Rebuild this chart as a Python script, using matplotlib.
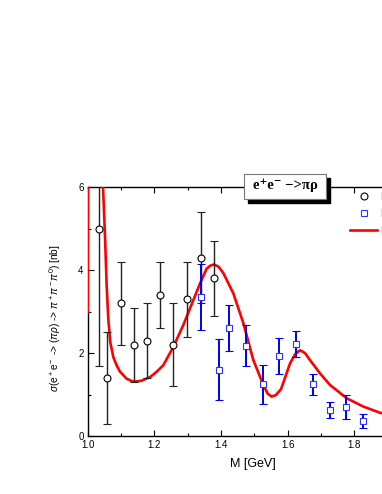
import matplotlib
matplotlib.use("Agg")
import matplotlib.pyplot as plt
import numpy as np
from matplotlib.patches import Rectangle
from matplotlib.lines import Line2D
from matplotlib.ticker import MultipleLocator

plt.rcParams['font.family'] = ['Liberation Sans', 'DejaVu Sans']
plt.rcParams['mathtext.fontset'] = 'custom'
plt.rcParams['mathtext.rm'] = 'Liberation Sans'
plt.rcParams['mathtext.it'] = 'Liberation Sans:italic'

# Data set 1 (open circles)
m1 = [1.035, 1.059, 1.099, 1.138, 1.177, 1.217, 1.257, 1.299, 1.339, 1.379]
s1 = [5.0, 1.4, 3.2, 2.2, 2.3, 3.4, 2.2, 3.3, 4.3, 3.8]
e1 = [3.3, 1.1, 1.0, 0.9, 0.9, 0.8, 1.0, 0.9, 1.1, 0.9]

# Data set 2 (open squares)
m2 = [1.340, 1.395, 1.425, 1.475, 1.526, 1.575, 1.625, 1.675, 1.726, 1.776, 1.825]
s2 = [3.35, 1.6, 2.6, 2.18, 1.25, 1.93, 2.22, 1.25, 0.63, 0.70, 0.37]
e2 = [0.80, 0.74, 0.56, 0.50, 0.47, 0.43, 0.31, 0.25, 0.20, 0.30, 0.17]

# Model curve, left branch then main branch
cm_left = [1.000, 1.0008]
cs_left = [3.0, 6.5]
cm = [1.043, 1.046, 1.052, 1.057, 1.062, 1.068, 1.077, 1.087, 1.097, 1.117, 1.137,
      1.160, 1.187, 1.207, 1.227, 1.257, 1.287, 1.317, 1.337, 1.357, 1.368, 1.379,
      1.393, 1.407, 1.437, 1.467, 1.497, 1.527, 1.540, 1.552, 1.565, 1.580, 1.607,
      1.622, 1.637, 1.652, 1.667, 1.697, 1.727, 1.777, 1.827, 1.877, 1.950]
cs = [6.6, 6.0, 4.8, 3.6, 2.8, 2.25, 1.9, 1.7, 1.55, 1.38, 1.31,
      1.33, 1.42, 1.55, 1.71, 2.15, 2.68, 3.28, 3.68, 4.04, 4.11, 4.14,
      4.08, 3.93, 3.44, 2.72, 1.83, 1.23, 1.02, 0.95, 0.99, 1.13, 1.75,
      1.97, 2.07, 2.00, 1.83, 1.51, 1.23, 0.91, 0.71, 0.56, 0.45]

legend_labels = ['DM2', 'BaBar', 'Model']
xticks = [1.0, 1.2, 1.4, 1.6, 1.8]
yticks = [0, 2, 4, 6]

W, H = 382, 494
fig = plt.figure(figsize=(W / 100, H / 100), dpi=100)
ax = fig.add_axes([87.7 / W, 58 / H, 333.3 / W, 248.7 / H])

ax.plot(cm_left, cs_left, color='#ff0000', lw=1.9, zorder=4)
ax.plot(cm, cs, color='#ff0000', lw=1.9, zorder=4)

ax.errorbar(m1, s1, yerr=e1, fmt='o', mfc='white', mec='black', mew=0.8, ms=5,
            ecolor='#222222', elinewidth=1.0, capsize=3, capthick=1.0, zorder=5)
ax.errorbar(m2, s2, yerr=e2, fmt='s', mfc='white', mec='#3333ff', mew=0.8, ms=4.5,
            ecolor='#0000ee', elinewidth=1.4, capsize=3, capthick=1.4, zorder=5)

ax.set_xlim(1.0, 2.0)
ax.set_ylim(0, 6)
ax.set_xticks(xticks)
ax.set_xticklabels([f'{t:.1f}' for t in xticks])
ax.set_yticks(yticks)
ax.xaxis.set_minor_locator(MultipleLocator(0.1))
ax.yaxis.set_minor_locator(MultipleLocator(1))
ax.tick_params(which='both', direction='in', top=True, right=True, labelsize=7, width=0.8)
ax.tick_params(which='major', length=4)
ax.tick_params(axis='x', which='major', pad=3)
ax.tick_params(axis='y', which='major', pad=3)
ax.tick_params(which='minor', length=2.5)
for sp in ax.spines.values():
    sp.set_linewidth(1.0)

ax.set_xlabel('M [GeV]', fontsize=9)
ax.xaxis.set_label_coords(0.496, -0.088)
ax.set_ylabel(r'$\sigma$(e$^+$e$^-$ -> ($\pi\rho$) -> $\pi^+\pi^-\pi^0$) [nb]', fontsize=7.3)
ax.yaxis.set_label_coords(-0.074, 0.476)

# Legend (partially cut off by the figure edge, as in the source)
handles = [
    Line2D([], [], ls='none', marker='o', mfc='white', mec='black', mew=0.8, ms=5),
    Line2D([], [], ls='none', marker='s', mfc='white', mec='#3333ff', mew=0.8, ms=4.5),
    Line2D([], [], color='#ff0000', lw=1.9),
]
ax.legend(handles, legend_labels, loc='upper left',
          bbox_to_anchor=(350 / W, 1 - 192 / H), bbox_transform=fig.transFigure,
          frameon=False, fontsize=8, handlelength=2.45, handletextpad=0.3,
          borderaxespad=0, borderpad=0, labelspacing=0.62)

# Title box with shadow
bx0, by0, bx1, by1 = 244, 174, 326, 199
fig.patches.append(Rectangle(((bx0 + 4) / W, 1 - (by1 + 4) / H), (bx1 - bx0) / W, (by1 - by0) / H,
                             transform=fig.transFigure, facecolor='black', edgecolor='black',
                             zorder=10))
fig.patches.append(Rectangle((bx0 / W, 1 - by1 / H), (bx1 - bx0) / W, (by1 - by0) / H,
                             transform=fig.transFigure, facecolor='white', edgecolor='#777777',
                             lw=0.8, zorder=11))
fig.text((bx0 + bx1) / 2 / W, 1 - (by0 + by1) / 2 / H + 0.002, 'e⁺e⁻ −>πρ',
         family=['Liberation Serif', 'DejaVu Serif'], fontweight='bold', fontsize=10.5,
         ha='center', va='center', zorder=12)

fig.savefig('out.png', dpi=100)
